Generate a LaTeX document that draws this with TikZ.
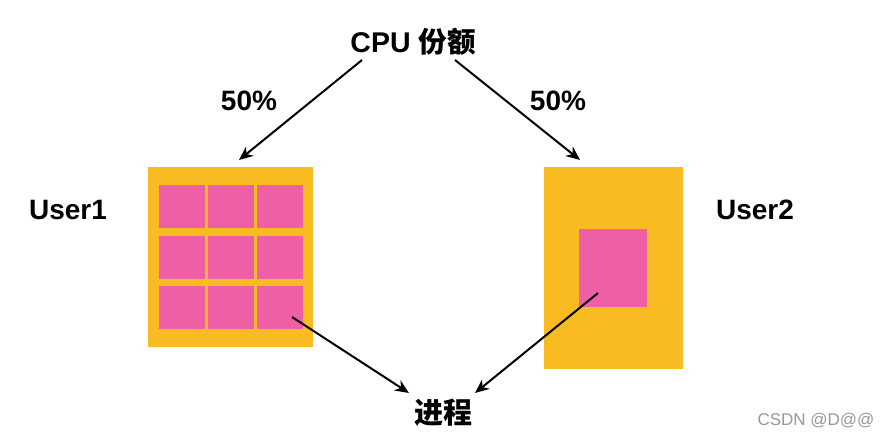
\documentclass[tikz,border=0pt]{standalone}
\usepackage{fontspec}
\setmainfont{Liberation Sans}
\newfontfamily\cjk{Noto Sans CJK SC}
\usetikzlibrary{arrows.meta}
\definecolor{boxorange}{HTML}{F8BB22}
\definecolor{boxpink}{HTML}{EE5FA6}
\tikzset{
  ubox/.style={fill=boxorange, draw=none, anchor=north west, inner sep=0pt},
  pbox/.style={fill=boxpink, draw=none, anchor=north west, inner sep=0pt},
  lbl/.style={font=\fontsize{28}{28}\selectfont\bfseries, inner sep=0pt},
  cjklbl/.style={font=\fontsize{29}{29}\selectfont\bfseries\cjk, inner sep=0pt},
  arr/.style={draw=black, line width=2pt, -{Stealth[length=14pt,width=12pt]}},
}
\begin{document}
\begin{tikzpicture}[x=1pt,y=-1pt]
\useasboundingbox (0,0) rectangle (890,439);
\fill[white] (0,0) rectangle (890,439);
% user boxes
\node[ubox, minimum width=165, minimum height=180] (u1) at (148,167) {};
\node[ubox, minimum width=139, minimum height=202] (u2) at (544,167) {};
% pink squares of user1
\foreach \c/\x in {1/159,2/208,3/257}{
  \foreach \r/\y in {1/185,2/236,3/286}{
    \node[pbox, minimum width=45.5, minimum height=43] (p\r\c) at (\x,\y) {};
  }
}
\node[pbox, minimum width=68, minimum height=78] (q) at (579,229) {};
% labels
\node[font=\fontsize{28.5}{28.5}\selectfont\bfseries, inner sep=0pt] (cpu) at (413,42) {CPU {\cjk\bfseries 份额}};
\node[lbl] (l50) at (249,101) {50\%};
\node[lbl] (r50) at (558,101) {50\%};
\node[lbl] (user1) at (68,210) {User1};
\node[lbl] (user2) at (755,210) {User2};
\node[cjklbl] (proc) at (443,413) {进程};
\node[font=\fontsize{17}{17}\selectfont, text=gray!80, inner sep=0pt] (csdn) at (816,421) {CSDN @D@@};
% arrow ends
\coordinate (a1s) at (362,60);
\coordinate (a1e) at (239,160);
\coordinate (a2s) at (455,60);
\coordinate (a2e) at (580,160);
\coordinate (b1s) at (292,317);
\coordinate (b1e) at (409,393);
\coordinate (b2s) at (598,293);
\coordinate (b2e) at (475,393);
\draw[arr] (a1s) -- (a1e);
\draw[arr] (a2s) -- (a2e);
\draw[arr] (b1s) -- (b1e);
\draw[arr] (b2s) -- (b2e);
\end{tikzpicture}
\end{document}
